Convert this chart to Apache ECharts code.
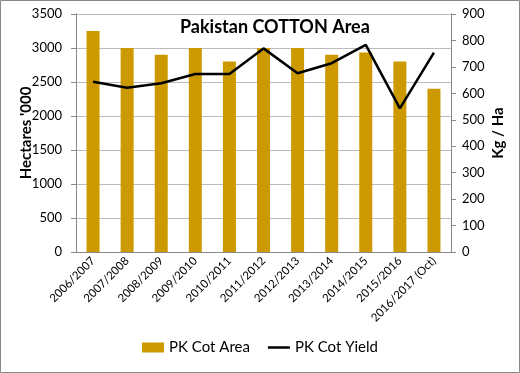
<!DOCTYPE html>
<html><head><meta charset="utf-8">
<script src="https://cdn.jsdelivr.net/npm/echarts@6/dist/echarts.min.js"></script>
<style>html,body{margin:0;padding:0;background:#fff}#c{width:520px;height:373px}</style>
</head><body><div id="c"></div>
<script>
const categories = ['2006/2007','2007/2008','2008/2009','2009/2010','2010/2011','2011/2012','2012/2013','2013/2014','2014/2015','2015/2016','2016/2017 (Oct)'];
const areaValues = [3250, 3000, 2900, 3000, 2800, 3000, 3000, 2900, 2935, 2800, 2400];
const yieldValues = [644, 621, 638, 673, 673, 770, 676, 714, 783, 543, 754];
const leftTicks = {min: 0, max: 3500, interval: 500};
const rightTicks = {min: 0, max: 900, interval: 100};
const FONT = 'Lato, "Open Sans", sans-serif';
const chart = echarts.init(document.getElementById('c'), null, {renderer: 'canvas'});
chart.setOption({
  animation: false,
  textStyle: {fontFamily: FONT},
  title: {text: 'Pakistan COTTON Area', left: 175, top: 13,
    textStyle: {fontSize: 18, fontWeight: 'bold', color: '#000', fontFamily: FONT}},
  graphic: [{type: 'rect', shape: {x: 0.5, y: 0.5, width: 519, height: 372},
    style: {fill: 'none', stroke: '#888', lineWidth: 1}, silent: true}],
  legend: {bottom: 13, left: 'center', itemGap: 18, itemWidth: 22, itemHeight: 10,
    textStyle: {fontSize: 15, color: '#000', fontFamily: FONT},
    data: [{name: 'PK Cot Area', icon: 'rect'},
           {name: 'PK Cot Yield', icon: 'path://M0,4 L22,4 L22,6.5 L0,6.5 Z', itemStyle: {color: '#000'}}]},
  grid: {left: 76, right: 69, top: 14, bottom: 121, containLabel: false},
  xAxis: {type: 'category', data: categories, boundaryGap: true,
    axisLine: {lineStyle: {color: '#888'}},
    axisTick: {alignWithLabel: false, length: 5, lineStyle: {color: '#888'}},
    axisLabel: {rotate: 45, fontSize: 11.5, color: '#000', margin: 7, interval: 0}},
  yAxis: [
    {type: 'value', min: leftTicks.min, max: leftTicks.max, interval: leftTicks.interval,
     name: "Hectares '000", nameLocation: 'middle', nameGap: 42, nameRotate: 90, nameMoveOverlap: false,
     nameTextStyle: {fontSize: 15, fontWeight: 'bold', color: '#000'},
     axisLine: {show: true, lineStyle: {color: '#888'}},
     axisTick: {show: true, length: 5, lineStyle: {color: '#888'}},
     axisLabel: {fontSize: 13, color: '#000', margin: 14, formatter: v => String(v)},
     splitLine: {lineStyle: {color: '#bbb', width: 1}}},
    {type: 'value', min: rightTicks.min, max: rightTicks.max, interval: rightTicks.interval,
     position: 'right', name: 'Kg / Ha', nameLocation: 'middle', nameGap: 40, nameRotate: 90, nameMoveOverlap: false,
     nameTextStyle: {fontSize: 15, fontWeight: 'bold', color: '#000'},
     axisLine: {show: true, lineStyle: {color: '#888'}},
     axisTick: {show: true, length: 5, lineStyle: {color: '#888'}},
     axisLabel: {fontSize: 13, color: '#000', margin: 11, formatter: v => String(v)},
     splitLine: {show: false}}
  ],
  series: [
    {name: 'PK Cot Area', type: 'bar', data: areaValues, yAxisIndex: 0, barWidth: 13,
     itemStyle: {color: '#CC9900'}},
    {name: 'PK Cot Yield', type: 'line', data: yieldValues, yAxisIndex: 1,
     symbol: 'none', lineStyle: {color: '#000', width: 2.5}, itemStyle: {color: '#000'}}
  ]
});
</script></body></html>
